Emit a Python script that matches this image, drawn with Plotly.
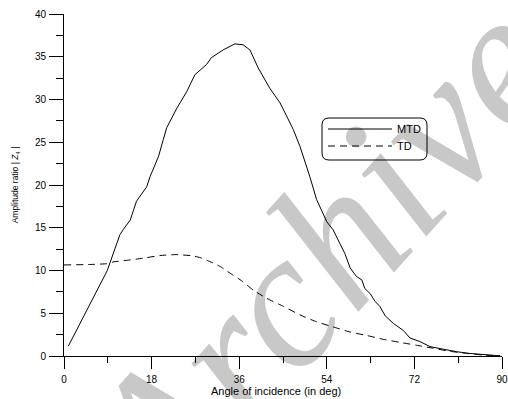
import plotly.graph_objects as go

# ---- data ----
mtd_angle = [0.9, 4.0, 8.9, 10.5, 11.5, 12.2, 13.6, 14.9, 17.0, 17.7, 19.4, 20.4, 21.1,
             23.2, 25.2, 26.9, 29.3, 30.3, 32.7, 35.1, 36.8, 38.2, 39.9, 42.3, 44.4,
             47.1, 48.5, 50.5, 51.9, 54.0, 55.3, 57.7, 58.8, 60.1, 61.2, 61.8, 62.9,
             63.9, 64.9, 66.0, 67.7, 69.7, 71.1, 73.1, 75.2, 77.9, 80.7, 83.4, 86.0, 89.6]
mtd_value = [1.17, 4.6, 10.0, 12.6, 14.2, 14.8, 15.9, 18.1, 19.8, 21.0, 23.3, 25.3, 26.7,
             29.0, 30.9, 32.9, 34.1, 34.9, 35.8, 36.5, 36.4, 35.8, 33.7, 31.3, 29.6,
             26.5, 24.5, 21.0, 18.3, 15.7, 14.75, 12.0, 10.3, 9.3, 8.9, 7.9, 7.3,
             6.4, 5.8, 4.7, 3.8, 3.0, 2.1, 1.7, 1.1, 0.8, 0.5, 0.3, 0.15, 0.02]

td_angle = [0.0, 5.0, 8.8, 10.1, 13.0, 16.3, 19.7, 23.2, 26.6, 28.0, 30.0, 32.0, 34.1,
            36.5, 38.9, 41.6, 45.1, 48.5, 51.9, 55.3, 58.8, 62.2, 65.6, 69.0, 72.5,
            75.9, 79.3, 82.7, 86.0, 89.6]
td_value = [10.65, 10.7, 10.8, 11.0, 11.2, 11.44, 11.75, 11.86, 11.7, 11.5, 11.04, 10.5, 9.7,
            8.8, 7.7, 6.76, 5.8, 4.8, 4.0, 3.4, 2.8, 2.4, 1.95, 1.6, 1.25,
            0.9, 0.55, 0.3, 0.12, 0.02]

x_ticks = [0, 18, 36, 54, 72, 90]
y_ticks = [0, 5, 10, 15, 20, 25, 30, 35, 40]

W, H = 508, 399
PL, PR, PT, PB = 64, 502, 14, 356     # plot area in page pixels
PW, PH = PR - PL, PB - PT


def px(x):
    return (x - PL) / PW


def py(y):
    return (PB - y) / PH


FONT = "Liberation Sans, Arial, sans-serif"

fig = go.Figure()
fig.add_trace(go.Scatter(x=mtd_angle, y=mtd_value, mode="lines", name="MTD",
                         line=dict(color="black", width=1)))
fig.add_trace(go.Scatter(x=td_angle, y=td_value, mode="lines", name="TD",
                         line=dict(color="black", width=1, dash="7px,5px", shape="spline", smoothing=0.5)))

axis_common = dict(showline=True, linecolor="black", linewidth=1, showgrid=False,
                   zeroline=False, ticks="outside", tickcolor="black", tickwidth=1,
                   tickfont=dict(family=FONT, size=10, color="black"))

fig.update_xaxes(range=[0, 90], tickvals=x_ticks, ticklen=12,
                 minor=dict(dtick=9, tick0=0, ticklen=6, ticks="outside", tickcolor="black"),
                 ticklabelstandoff=2, **axis_common)
fig.update_yaxes(range=[0, 40], tickvals=y_ticks, ticklen=14,
                 minor=dict(dtick=2.5, tick0=0, ticklen=7, ticks="outside", tickcolor="black"),
                 title=dict(text="Amplitude ratio | <i>Z</i><sub>4</sub> |",
                            font=dict(family=FONT, size=8.5, color="black"), standoff=14),
                 ticklabelstandoff=1, **axis_common)

# rounded legend box
x0, x1, y0, y1, r = 322, 427, 118, 160, 7
path = (f"M {px(x0 + r)},{py(y0)} L {px(x1 - r)},{py(y0)} "
        f"Q {px(x1)},{py(y0)} {px(x1)},{py(y0 + r)} L {px(x1)},{py(y1 - r)} "
        f"Q {px(x1)},{py(y1)} {px(x1 - r)},{py(y1)} L {px(x0 + r)},{py(y1)} "
        f"Q {px(x0)},{py(y1)} {px(x0)},{py(y1 - r)} L {px(x0)},{py(y0 + r)} "
        f"Q {px(x0)},{py(y0)} {px(x0 + r)},{py(y0)} Z")

cx, cy = 306, 240
shapes = [
    # watermark (behind the data)
    dict(type="rect", xref="paper", yref="paper", x0=px(cx - 20), x1=px(cx + 20), y0=py(cy + 20), y1=py(cy - 20),
         line=dict(width=0), fillcolor="rgba(0,0,0,0)", layer="below",
         label=dict(text="Archive", textangle=-48, textposition="middle center",
                    font=dict(family="Liberation Serif, Times New Roman, serif", size=195,
                              color="#c8c8c8", style="italic"))),
    dict(type="path", xref="paper", yref="paper", path=path, line=dict(color="black", width=1),
         fillcolor="rgba(0,0,0,0)"),
    dict(type="line", xref="paper", yref="paper", x0=px(328), x1=px(392), y0=py(129), y1=py(129),
         line=dict(color="black", width=1)),
    dict(type="line", xref="paper", yref="paper", x0=px(328), x1=px(392), y0=py(146), y1=py(146),
         line=dict(color="black", width=1, dash="7px,5px")),
]
annotations = [
    dict(text="MTD", xref="paper", yref="paper", x=px(395), y=py(129), xanchor="left", yanchor="middle",
         showarrow=False, font=dict(family=FONT, size=11, color="black")),
    dict(text="TD", xref="paper", yref="paper", x=px(395), y=py(146), xanchor="left", yanchor="middle",
         showarrow=False, font=dict(family=FONT, size=11, color="black")),
    dict(text="Angle of incidence (in deg)", xref="paper", yref="paper", x=px(276), y=py(391),
         xanchor="center", yanchor="middle", showarrow=False,
         font=dict(family=FONT, size=11, color="black")),
]

fig.update_layout(width=W, height=H,
                  margin=dict(l=PL, r=W - PR, t=PT, b=H - PB, autoexpand=False),
                  plot_bgcolor="white", paper_bgcolor="white", showlegend=False,
                  shapes=shapes, annotations=annotations)

fig.write_html("out.html", config={"displayModeBar": False},
               post_script="document.body.style.margin='0';document.body.style.overflow='hidden';")
